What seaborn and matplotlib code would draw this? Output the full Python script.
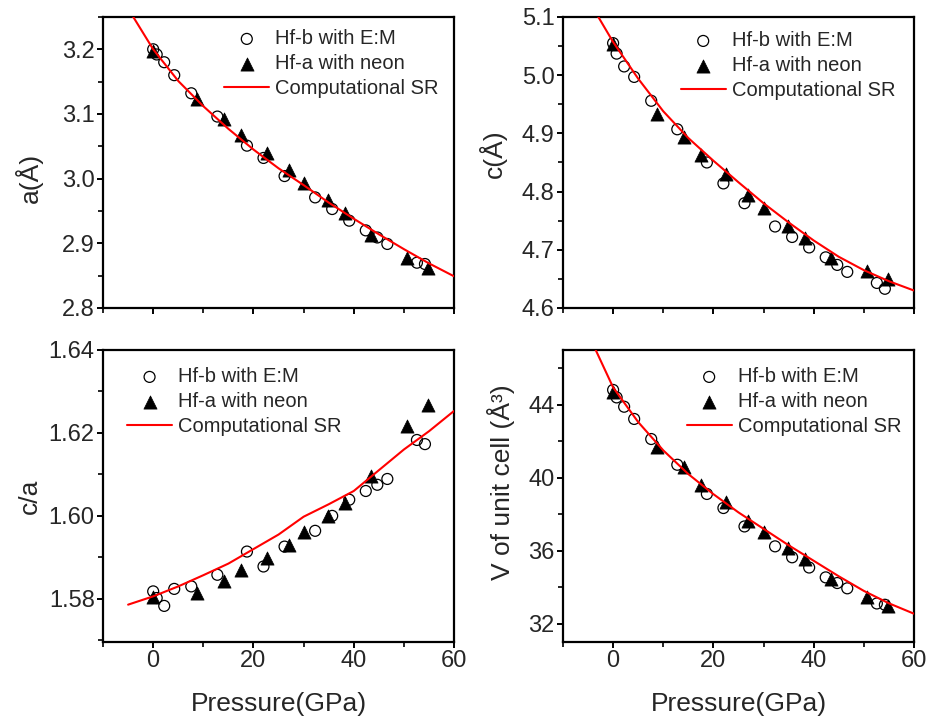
import numpy as np
import pandas as pd
import matplotlib
matplotlib.use("Agg")
import matplotlib.pyplot as plt
from matplotlib.ticker import MultipleLocator, FormatStrFormatter
import seaborn as sns

# ---------------- data ----------------
# Hf-b with E:M (open circles)
P_b = [0, 0.7, 2.2, 4.2, 7.6, 12.8, 18.7, 22.0, 26.2, 32.3, 35.7, 39.1, 42.4, 44.7, 46.7, 52.6, 54.2]
a_b = [3.200, 3.192, 3.180, 3.160, 3.132, 3.096, 3.051, 3.032, 3.004, 2.971, 2.953, 2.935, 2.920, 2.909, 2.899, 2.870, 2.868]
c_b = [5.055, 5.037, 5.015, 4.997, 4.956, 4.907, 4.850, 4.814, 4.780, 4.740, 4.722, 4.704, 4.687, 4.674, 4.662, 4.643, 4.633]
ca_b = [1.5818, 1.5802, 1.5783, 1.5824, 1.5830, 1.5858, 1.5914, 1.5878, 1.5926, 1.5964, 1.6000, 1.6039, 1.6060, 1.6075, 1.6089, 1.6183, 1.6173]
V_b = [44.81, 44.40, 43.89, 43.22, 42.12, 40.71, 39.11, 38.34, 37.33, 36.24, 35.64, 35.08, 34.54, 34.23, 33.94, 33.11, 33.04]

# Hf-a with neon (filled triangles)
P_a = [0, 8.8, 14.2, 17.5, 22.6, 27.0, 30.0, 34.8, 38.2, 43.5, 50.7, 54.8]
a_a = [3.197, 3.123, 3.092, 3.067, 3.040, 3.013, 2.994, 2.967, 2.947, 2.913, 2.878, 2.862]
c_a = [5.053, 4.934, 4.894, 4.863, 4.830, 4.794, 4.771, 4.740, 4.720, 4.686, 4.663, 4.650]
ca_a = [1.5804, 1.5814, 1.5844, 1.5870, 1.5898, 1.5930, 1.5960, 1.6000, 1.6031, 1.6095, 1.6217, 1.6267]
V_a = [44.70, 41.66, 40.56, 39.60, 38.65, 37.64, 37.00, 36.13, 35.54, 34.45, 33.44, 32.99]

# Computational SR (red curve)
P_sr = [-5, 0, 5, 10, 15, 20, 25, 30, 35, 40, 45, 50, 55, 60]
a_sr = [3.263, 3.200, 3.151, 3.112, 3.077, 3.045, 3.016, 2.990, 2.963, 2.938, 2.914, 2.891, 2.869, 2.849]
c_sr = [5.130, 5.057, 4.994, 4.938, 4.892, 4.853, 4.816, 4.780, 4.747, 4.716, 4.688, 4.665, 4.646, 4.630]
ca_sr = [1.5786, 1.5806, 1.5830, 1.5857, 1.5885, 1.5920, 1.5955, 1.5998, 1.6028, 1.6060, 1.6110, 1.6160, 1.6204, 1.6253]
V_sr = [47.90, 44.95, 43.05, 41.50, 40.20, 39.10, 38.10, 37.20, 36.30, 35.45, 34.60, 33.80, 33.12, 32.55]

series_labels = ["Hf-b with E:M", "Hf-a with neon", "Computational SR"]
x_label = "Pressure(GPa)"
y_labels = ["a(Å)", "c(Å)", "c/a", "V of unit cell (Å³)"]
x_ticks = [0, 20, 40, 60]

# ---------------- style ----------------
sns.set_style("white")
plt.rcParams["font.family"] = ["Liberation Sans", "DejaVu Sans"]
plt.rcParams["axes.linewidth"] = 1.6

fig = plt.figure(figsize=(9.35, 7.25), dpi=100)

rects = [
    [0.1102, 0.5752, 0.3754, 0.4014],
    [0.6021, 0.5752, 0.3754, 0.4014],
    [0.1102, 0.1145, 0.3754, 0.4028],
    [0.6021, 0.1145, 0.3754, 0.4028],
]
panels = [
    (a_b, a_a, a_sr, (2.8, 3.25), 0.1, 0.05, "%.1f", (0.345, 0.958), (-0.171, 0.447)),
    (c_b, c_a, c_sr, (4.6, 5.1), 0.1, 0.05, "%.1f", (0.335, 0.951), (-0.159, 0.53)),
    (ca_b, ca_a, ca_sr, (1.5696, 1.64), 0.02, 0.01, "%.2f", (0.068, 0.941), (-0.174, 0.50)),
    (V_b, V_a, V_sr, (31, 47), 4, 2, "%d", (0.352, 0.941), (-0.137, 0.548)),
]

for i, (rect, (yb, ya, ysr, ylim, maj, mnr, fmt, lpos, ylpos)) in enumerate(zip(rects, panels)):
    ax = fig.add_axes(rect)
    df_b = pd.DataFrame({"P": P_b, "y": yb})
    df_a = pd.DataFrame({"P": P_a, "y": ya})
    df_sr = pd.DataFrame({"P": P_sr, "y": ysr})
    sns.scatterplot(data=df_b, x="P", y="y", marker="o", s=62, facecolor="none",
                    edgecolor="black", linewidth=0.9, ax=ax, label=series_labels[0], zorder=2)
    sns.scatterplot(data=df_a, x="P", y="y", marker="^", s=90, color="black",
                    edgecolor="black", linewidth=0.5, ax=ax, label=series_labels[1], zorder=2)
    sns.lineplot(data=df_sr, x="P", y="y", color="#ff0000", linewidth=1.5, ax=ax,
                 label=series_labels[2], zorder=3, sort=False)

    ax.set_xlim(-10, 60)
    ax.set_ylim(*ylim)
    ax.xaxis.set_major_locator(plt.FixedLocator(x_ticks))
    ax.xaxis.set_minor_locator(MultipleLocator(10))
    ax.yaxis.set_major_locator(MultipleLocator(maj))
    ax.yaxis.set_minor_locator(MultipleLocator(mnr))
    ax.yaxis.set_major_formatter(FormatStrFormatter(fmt))
    ax.tick_params(axis="both", which="major", direction="out", length=4, width=1.4,
                   labelsize=17, color="black", pad=2, bottom=True, left=True, top=False, right=False)
    ax.tick_params(axis="both", which="minor", direction="out", length=3.5, width=1.2,
                   color="black", bottom=True, left=True, top=False, right=False)
    for sp in ax.spines.values():
        sp.set_color("black")
        sp.set_linewidth(1.6)
        sp.set_visible(True)

    ax.set_ylabel(y_labels[i], fontsize=19)
    ax.yaxis.set_label_coords(*ylpos)
    if i >= 2:
        ax.set_xlabel(x_label, fontsize=19, labelpad=14)
    else:
        ax.set_xlabel("")
        ax.tick_params(axis="x", labelbottom=False)

    leg = ax.legend(loc="upper left", bbox_to_anchor=lpos, frameon=False, fontsize=14.5,
                    handlelength=2.25, handletextpad=0.3, labelspacing=0.3,
                    borderpad=0, borderaxespad=0, scatterpoints=1)

fig.savefig("out.png", dpi=100)
